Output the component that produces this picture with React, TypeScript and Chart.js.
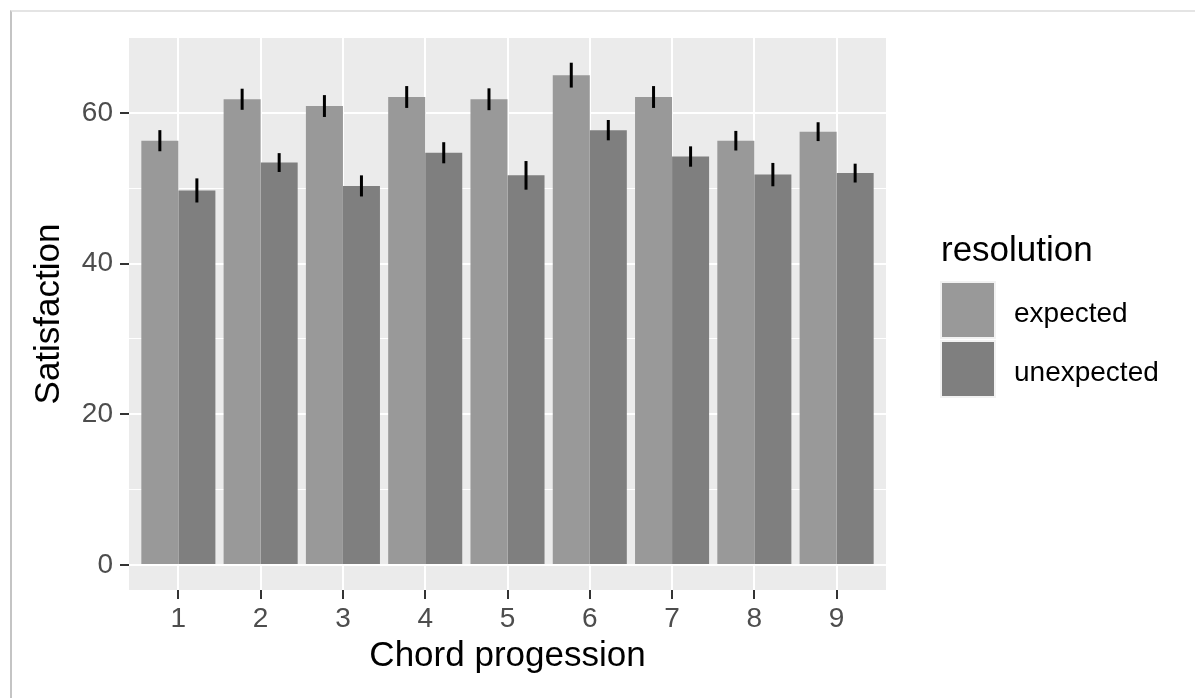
import React, { useEffect, useRef } from 'react';
import { Chart, registerables } from 'chart.js';

Chart.register(...registerables);

const categories = [1, 2, 3, 4, 5, 6, 7, 8, 9];
const seriesNames = ['expected', 'unexpected'];
const expectedValues = [56.3, 61.8, 60.9, 62.1, 61.8, 65.0, 62.1, 56.3, 57.5];
const expectedErrors = [1.4, 1.4, 1.45, 1.45, 1.45, 1.65, 1.45, 1.3, 1.25];
const unexpectedValues = [49.7, 53.4, 50.3, 54.7, 51.7, 57.7, 54.2, 51.8, 52.0];
const unexpectedErrors = [1.6, 1.25, 1.4, 1.4, 1.9, 1.35, 1.35, 1.55, 1.25];
const yTicks = [0, 10, 20, 30, 40, 50, 60];
const xTitle = 'Chord progession';
const yTitle = 'Satisfaction';
const legendTitle = 'resolution';
const seriesColors = ['#999999', '#7F7F7F'];

const FONT = '"Liberation Sans", Arial, Helvetica, sans-serif';

export default function App() {
  const ref = useRef<HTMLCanvasElement>(null);

  useEffect(() => {
    if (!ref.current) return;
    const values = [expectedValues, unexpectedValues];
    const errors = [expectedErrors, unexpectedErrors];

    const ggPlugin = {
      id: 'ggstyle',
      beforeDraw(chart: any) {
        const { ctx, chartArea: a } = chart;
        ctx.save();
        ctx.fillStyle = '#EBEBEB';
        ctx.fillRect(a.left, a.top, a.right - a.left, a.bottom - a.top);
        ctx.restore();
      },
      afterDatasetsDraw(chart: any) {
        const { ctx } = chart;
        const yScale = chart.scales.y;
        ctx.save();
        ctx.strokeStyle = '#000000';
        ctx.lineWidth = 3;
        ctx.lineCap = 'butt';
        chart.data.datasets.forEach((_ds: any, i: number) => {
          const meta = chart.getDatasetMeta(i);
          meta.data.forEach((bar: any, j: number) => {
            const v = values[i][j];
            const e = errors[i][j];
            ctx.beginPath();
            ctx.moveTo(bar.x, yScale.getPixelForValue(v + e));
            ctx.lineTo(bar.x, yScale.getPixelForValue(v - e));
            ctx.stroke();
          });
        });
        ctx.restore();
      },
      afterDraw(chart: any) {
        const { ctx, chartArea: a } = chart;
        const left = a.right + 55;
        ctx.save();
        ctx.fillStyle = '#000000';
        ctx.textAlign = 'left';
        ctx.textBaseline = 'alphabetic';
        ctx.font = `35px ${FONT}`;
        ctx.fillText(legendTitle, left, 261);
        const keyW = 53;
        const keyH = 54;
        const keyTop = 283;
        const step = 59;
        seriesNames.forEach((name, i) => {
          const top = keyTop + i * step;
          ctx.fillStyle = '#F2F2F2';
          ctx.fillRect(left - 1, top - 2, keyW + 3, keyH + 4);
          ctx.fillStyle = seriesColors[i];
          ctx.fillRect(left + 1, top, keyW - 1, keyH);
          ctx.fillStyle = '#000000';
          ctx.font = `28px ${FONT}`;
          ctx.fillText(name, left + 73, top + 38.5);
        });
        ctx.restore();
      },
    };

    const chart = new Chart(ref.current, {
      type: 'bar',
      data: {
        datasets: [
          {
            label: seriesNames[0],
            data: categories.map((c, i) => ({ x: c, y: expectedValues[i] })),
            backgroundColor: seriesColors[0],
            borderWidth: 0,
            categoryPercentage: 0.9,
            barPercentage: 1.0,
          },
          {
            label: seriesNames[1],
            data: categories.map((c, i) => ({ x: c, y: unexpectedValues[i] })),
            backgroundColor: seriesColors[1],
            borderWidth: 0,
            categoryPercentage: 0.9,
            barPercentage: 1.0,
          },
        ],
      },
      options: {
        animation: false,
        responsive: false,
        devicePixelRatio: 1,
        layout: { padding: { left: 0, top: 38, right: 309, bottom: 0 } },
        plugins: {
          legend: { display: false },
          tooltip: { enabled: false },
        },
        scales: {
          x: {
            type: 'linear',
            min: 0.4,
            max: 9.6,
            bounds: 'data',
            offset: false,
            afterBuildTicks: (s: any) => {
              s.ticks = categories.map((v) => ({ value: v }));
            },
            afterFit: (s: any) => {
              s.height = 108;
            },
            ticks: {
              autoSkip: false,
              maxRotation: 0,
              padding: 3,
              color: '#4D4D4D',
              font: { family: FONT, size: 28 },
              callback: (v: any) => String(v),
            },
            grid: {
              offset: false,
              color: '#FFFFFF',
              lineWidth: 2,
              drawTicks: true,
              tickLength: 9,
              tickWidth: 2,
              tickColor: '#333333',
            },
            border: { display: false },
            title: {
              display: true,
              text: xTitle,
              color: '#000000',
              font: { family: FONT, size: 35 },
              padding: { top: 0, bottom: 21 },
            },
          },
          y: {
            type: 'linear',
            min: -3.33,
            max: 69.93,
            bounds: 'data',
            afterBuildTicks: (s: any) => {
              s.ticks = yTicks.map((v) => ({ value: v }));
            },
            afterFit: (s: any) => {
              s.width = 129;
            },
            ticks: {
              autoSkip: false,
              padding: 7,
              color: '#4D4D4D',
              font: { family: FONT, size: 28 },
              callback: (v: any) => (Number(v) % 20 === 0 ? String(v) : ''),
            },
            grid: {
              color: '#FFFFFF',
              lineWidth: (c: any) => (c.tick && c.tick.value % 20 === 0 ? 2 : 1),
              drawTicks: true,
              tickLength: 9,
              tickWidth: 2,
              tickColor: (c: any) => (c.tick && c.tick.value % 20 === 0 ? '#333333' : 'rgba(0,0,0,0)'),
            },
            border: { display: false },
            title: {
              display: true,
              text: yTitle,
              color: '#000000',
              font: { family: FONT, size: 35 },
              padding: { top: 28, bottom: 0 },
            },
          },
        },
      } as any,
      plugins: [ggPlugin],
    });

    return () => chart.destroy();
  }, []);

  return (
    <div style={{ position: 'absolute', left: 0, top: 0, width: 1195, height: 698, background: '#FFFFFF' }}>
      <div
        style={{
          position: 'absolute',
          left: 10,
          top: 10,
          right: 0,
          bottom: 0,
          borderLeft: '2px solid #C4C4C4',
          borderTop: '2px solid #E4E4E4',
        }}
      />
      <canvas
        ref={ref}
        width={1195}
        height={698}
        style={{ position: 'absolute', left: 0, top: 0, width: 1195, height: 698, display: 'block' }}
      />
    </div>
  );
}
